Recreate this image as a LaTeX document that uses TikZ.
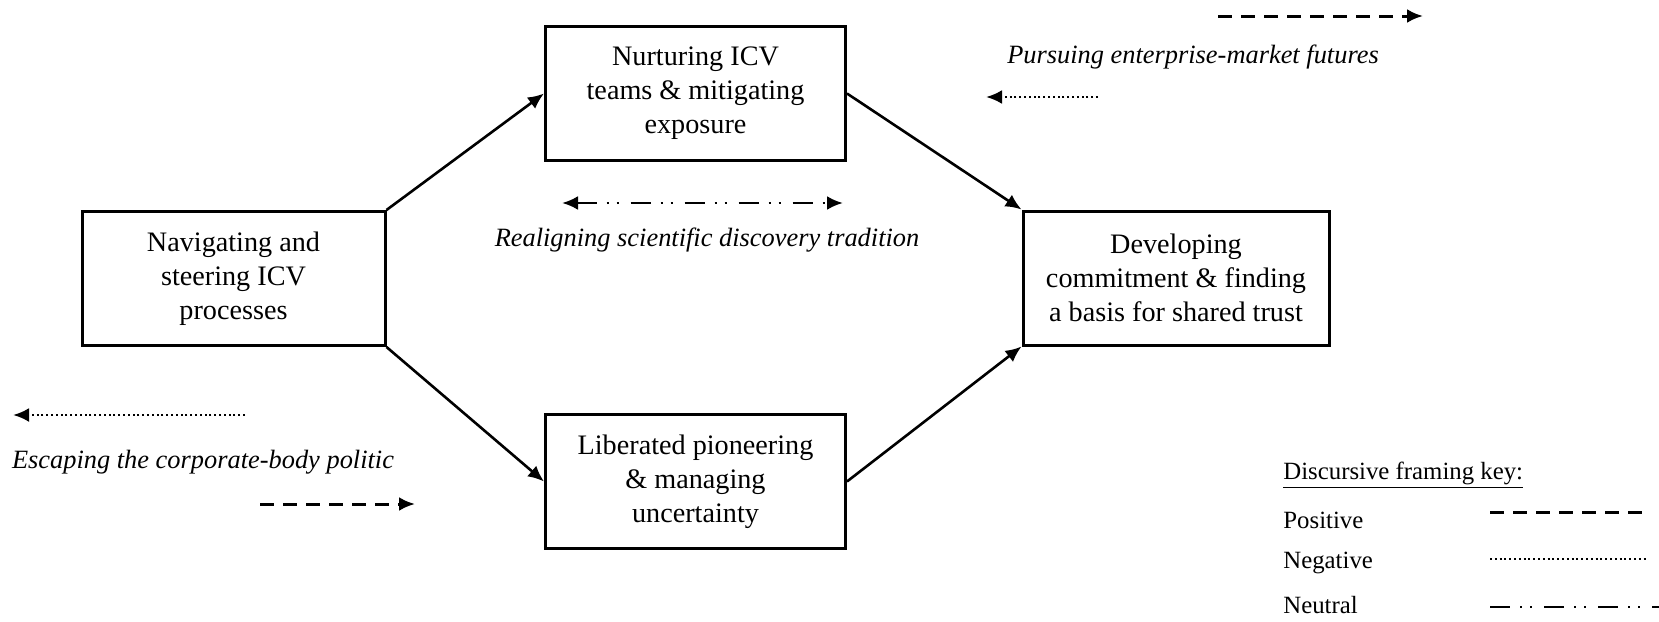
\documentclass[tikz,border=0pt]{standalone}
\usepackage{fontspec}
\setmainfont{Liberation Serif}
\usetikzlibrary{arrows.meta}
\tikzset{
  stagebox/.style={draw, line width=1.5pt, align=center, inner sep=0pt,
    minimum width=150pt, minimum height=67pt,
    font=\fontsize{14.1}{17}\selectfont},
  flowarrow/.style={line width=1.3pt, -{Latex[length=8pt,width=7pt]}},
  headed/.style={-{Latex[length=8pt,width=7pt]}},
  headedboth/.style={{Latex[length=8pt,width=7pt]}-{Latex[length=8pt,width=7pt]}},
  posline/.style={line width=1.5pt, dash pattern=on 7pt off 4.5pt},
  negline/.style={line width=1.4pt, dash pattern=on 1pt off 1.4pt},
  neuline/.style={line width=1.4pt, dash pattern=on 10pt off 5pt on 1pt off 4pt on 1pt off 6pt},
  framelabel/.style={font=\fontsize{13.2}{16}\selectfont\itshape},
  keylabel/.style={anchor=west, inner sep=0pt, font=\fontsize{12.4}{15}\selectfont}
}
\begin{document}
\begin{tikzpicture}[x=0.5pt,y=-0.5pt]
\useasboundingbox (0,0) rectangle (1659,621);
%% Nodes
\node[stagebox, minimum width=151.5pt] (nav) at (233.5,278.5) {Navigating and\\steering ICV\\processes};
\node[stagebox] (nur) at (695.5,93.5) {Nurturing ICV\\teams \& mitigating\\exposure};
\node[stagebox] (lib) at (695.5,481.5) {Liberated pioneering\\\& managing\\uncertainty};
\node[stagebox, minimum width=153pt] (dev) at (1176,278) {Developing\\commitment \& finding\\a basis for shared trust};
%% Lines
\draw[flowarrow] (nav.north east) -- (nur.west);
\draw[flowarrow] (nur.east) -- (dev.north west);
\draw[flowarrow] (nav.south east) -- (lib.west);
\draw[flowarrow] (lib.east) -- (dev.south west);
%% Framings
\node[framelabel] (pursue) at (1193,57) {Pursuing enterprise-market futures};
\node[framelabel] (realign) at (707,240) {Realigning scientific discovery tradition};
\node[framelabel] (escape) at (203,462) {Escaping the corporate-body politic};
\coordinate (pursueposA) at (1218,16);
\coordinate (pursueposB) at (1423,16);
\coordinate (pursuenegA) at (1098,97);
\coordinate (pursuenegB) at (986,97);
\coordinate (realignA) at (562,203);
\coordinate (realignB) at (843,203);
\coordinate (escapenegA) at (245,415);
\coordinate (escapenegB) at (13,415);
\coordinate (escapeposA) at (260,504);
\coordinate (escapeposB) at (415,504);
\draw[posline, headed] (pursueposA) -- (pursueposB);
\draw[negline, headed] (pursuenegA) -- (pursuenegB);
\draw[neuline, headedboth] (realignA) -- (realignB);
\draw[negline, headed] (escapenegA) -- (escapenegB);
\draw[posline, headed] (escapeposA) -- (escapeposB);
%% Key
\node[keylabel] (keyhead) at (1283,475) {\underline{Discursive framing key:}};
\node[keylabel] (keypos) at (1283,520) {Positive};
\node[keylabel] (keyneg) at (1283,563) {Negative};
\node[keylabel] (keyneu) at (1283,605) {Neutral};
\coordinate (keyposA) at (1490,512);
\coordinate (keyposB) at (1648,512);
\coordinate (keynegA) at (1490,559);
\coordinate (keynegB) at (1648,559);
\coordinate (keyneuA) at (1490,607);
\coordinate (keyneuB) at (1659,607);
\draw[posline] (keyposA) -- (keyposB);
\draw[negline] (keynegA) -- (keynegB);
\draw[neuline] (keyneuA) -- (keyneuB);
\end{tikzpicture}
\end{document}
